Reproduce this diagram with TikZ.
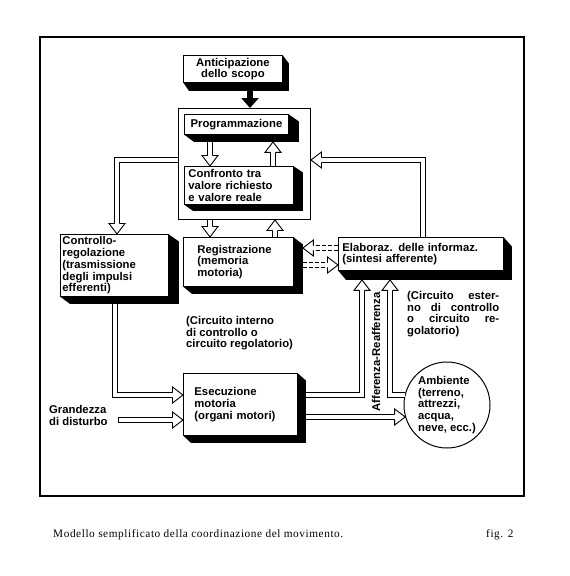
\documentclass[tikz,border=0pt]{standalone}
\usepackage{fontspec}
\setmainfont{Liberation Serif}
\newfontfamily\dsans{Liberation Sans}
\newfontfamily\capfont[LetterSpace=5]{Liberation Serif}
\usetikzlibrary{calc,arrows.meta}
\newcommand{\dfont}{\dsans\bfseries\fontsize{11.3}{11.7}\selectfont}
\newcommand{\hhead}[2]{%
  \begin{scope}[shift={#1}, rotate=#2]
    \filldraw[line width=0.9pt, fill=white, line join=miter] (-10.5,2.5) -- (-10.5,8) -- (0,0) -- (-10.5,-8) -- (-10.5,-2.5);
  \end{scope}}
\newcommand{\shadowof}[3]{%
  \fill ($(#1.north east)+(0,0.5)$) -- ++(#2,#3) |- ($(#1.south west)+(#2,#3)$) -- ($(#1.south west)+(0.5,0)$) -- ($(#1.south east)$) -- cycle;}
\tikzset{
  face/.style={draw, line width=0.9pt, fill=white, inner xsep=6pt, inner ysep=2pt, font=\dfont, anchor=north west, align=left},
  hollow/.style={draw, line width=0.9pt, double=white, double distance=4pt, line join=miter},
  dhollow/.style={line width=0.9pt, dash pattern=on 4pt off 2pt},
  lbl/.style={font=\dfont, align=left, inner sep=0pt, anchor=north west}
}
\begin{document}
\begin{tikzpicture}[x=1pt,y=-1pt]
\useasboundingbox (0,0) rectangle (570,576);
\fill[white] (0,0) rectangle (570,576);
\draw[line width=1.2pt] (40,37) rectangle (524,496);

% group box
\node[draw, line width=1pt, minimum width=132pt, minimum height=111pt, anchor=north west, inner sep=0pt] (group) at (178,108) {};

% boxes
\node[face, minimum width=99pt, minimum height=27pt, text width=91pt, inner xsep=4pt, align=center] (antic) at (183,55) {Anticipazione\\dello scopo};
\shadowof{antic}{6}{8}
\node[face, minimum width=104pt, minimum height=20pt, text width=98pt, inner xsep=3pt, align=center] (prog) at (184,114) {Programmazione};
\shadowof{prog}{10}{7}
\node[face, minimum width=109pt, minimum height=38pt, text width=101pt, inner xsep=4pt, inner ysep=0pt] (conf) at (184,166) {Confronto tra\\valore richiesto\\e valore reale};
\shadowof{conf}{9}{6}
\node[face, minimum width=108pt, minimum height=62pt, text width=104pt, inner xsep=2pt, inner ysep=0pt] (contr) at (60,234) {Controllo-\\regolazione\\(trasmissione\\degli impulsi\\efferenti)};
\shadowof{contr}{10}{7}
\node[face, minimum width=110pt, minimum height=49pt, text width=82pt, inner xsep=14pt] (regis) at (183,237) {Registrazione\\(memoria\\motoria)};
\shadowof{regis}{9}{7}
\node[face, minimum width=165pt, minimum height=33pt, text width=157pt, inner xsep=4pt, inner ysep=0pt] (elab) at (338,237) {Elaboraz. delle informaz.\\(sintesi afferente)};
\shadowof{elab}{8}{9}
\node[face, minimum width=114pt, minimum height=62pt, text width=92pt, inner xsep=11pt] (esec) at (183,373) {Esecuzione\\motoria\\(organi motori)};
\shadowof{esec}{8}{7}
\node[circle, draw, line width=1pt, minimum size=86pt, inner sep=0pt, font=\dfont, align=left] (amb) at (447,405) {Ambiente\\(terreno,\\attrezzi,\\acqua,\\neve, ecc.)};

% labels
\node[lbl] (cint) at (186,316) {(Circuito interno\\di controllo o\\circuito regolatorio)};
\node[lbl] (cest) at (407,291) {\hbox to 92pt{(Circuito\hfill ester-}\\\hbox to 92pt{no\hfill di\hfill controllo}\\\hbox to 92pt{o\hfill circuito\hfill re-}\\golatorio)};
\node[lbl, anchor=center, rotate=90] (aff) at (376,352) {Afferenza-Reafferenza};
\node[lbl] (gd) at (49,405) {Grandezza\\di disturbo};
\coordinate (dist) at (118,420);

% solid arrow
\draw[line width=6pt, -{Triangle[width=17pt,length=10pt]}] ($(antic.south west)+(67,7)$) -- ($(group.north west)+(72,0)$);

% hollow arrows
\draw[hollow] ($(prog.south west)+(26,7)$) -- ($(conf.north west)+(26,-10)$);
\hhead{($(conf.north west)+(26,0)$)}{-90}
\draw[hollow] ($(conf.north west)+(89,0)$) -- ($(prog.south west)+(89,17)$);
\hhead{($(prog.south west)+(89,7)$)}{90}
\draw[hollow] ($(group.south west)+(32,0)$) -- ($(regis.north west)+(27,-10)$);
\hhead{($(regis.north west)+(27,0)$)}{-90}
\draw[hollow] ($(regis.north west)+(92,0)$) -- ($(group.south west)+(97,10)$);
\hhead{($(group.south west)+(97,0)$)}{90}
\draw[hollow] ($(group.north west)+(0,52)$) -| ($(contr.north west)+(57,-10)$);
\hhead{($(contr.north west)+(57,0)$)}{-90}
\draw[hollow] ($(elab.north west)+(85,0)$) |- ($(group.north east)+(10,52)$);
\hhead{($(group.north east)+(0,52)$)}{180}
\draw[hollow] ($(contr.south west)+(55,7)$) |- ($(esec.north west)+(-10,22)$);
\hhead{($(esec.north west)+(0,22)$)}{0}
\draw[hollow] (dist) -- ($(esec.north west)+(-10,47)$);
\draw[line width=0.9pt] ($(dist)+(0,-2.9)$) -- ($(dist)+(0,2.9)$);
\hhead{($(esec.north west)+(0,47)$)}{0}
\draw[hollow] ($(esec.north east)+(8,22)$) -| ($(elab.south west)+(24,19)$);
\hhead{($(elab.south west)+(24,9)$)}{90}
\draw[hollow] (amb.167) -| ($(elab.south west)+(52,19)$);
\hhead{($(elab.south west)+(52,9)$)}{90}
\draw[hollow] ($(esec.east |- amb.196)+(8,0)$) -- ($(amb.196)+(-10,0)$);
\hhead{(amb.196)}{0}

% dashed hollow arrows
\draw[dhollow] ($(elab.north west)+(0,8.5)$) -- ($(regis.north east)+(19,8.5)$);
\draw[dhollow] ($(elab.north west)+(0,13.5)$) -- ($(regis.north east)+(19,13.5)$);
\hhead{($(regis.north east)+(9,11)$)}{180}
\draw[dhollow] ($(regis.north east)+(9,25.5)$) -- ($(elab.north west)+(-10,25.5)$);
\draw[dhollow] ($(regis.north east)+(9,30.5)$) -- ($(elab.north west)+(-10,30.5)$);
\hhead{($(elab.north west)+(0,28)$)}{0}

% caption
\node[anchor=base west, inner sep=0pt, font=\capfont\fontsize{11.3}{13}\selectfont] (cap) at (53,537) {Modello semplificato della coordinazione del movimento.};
\node[anchor=base west, inner sep=0pt, font=\capfont\fontsize{11.3}{13}\selectfont] (fig) at (486,537) {fig. 2};
\end{tikzpicture}
\end{document}
